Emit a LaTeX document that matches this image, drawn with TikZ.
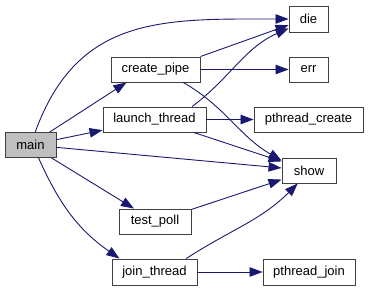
\documentclass[tikz,border=0pt]{standalone}
\usepackage{fontspec}
\setmainfont{Liberation Sans}
\usepackage{xcolor}
\usetikzlibrary{arrows.meta}

\definecolor{callblue}{RGB}{25,25,112}

\begin{document}
\begin{tikzpicture}[x=1pt, y=1pt, >={Triangle[length=13pt,width=9.5pt]},
  fn/.style={draw=black!75, line width=0.9pt, inner sep=0pt,
    minimum height=25pt, font=\fontsize{13}{15}\selectfont},
  call/.style={->, callblue, line width=0.9pt}]
  \useasboundingbox (0,0) rectangle (368,-291);

  \node[fn, fill=black!25, minimum width=51pt] (main) at (30.5,-145) {main};
  \node[fn, minimum width=89pt]  (create_pipe)   at (155.5,-69.5) {create\_pipe};
  \node[fn, minimum width=103pt] (launch_thread) at (154.5,-119.5) {launch\_thread};
  \node[fn, minimum width=72pt]  (test_poll)     at (155,-221.5) {test\_poll};
  \node[fn, minimum width=85pt, minimum height=26pt] (join_thread) at (154.5,-272) {join\_thread};
  \node[fn, minimum width=39pt, minimum height=26pt] (die) at (308.5,-19) {die};
  \node[fn, minimum width=39pt]  (err)           at (308.5,-69.5) {err};
  \node[fn, minimum width=109pt] (pthread_create) at (308.5,-119.5) {pthread\_create};
  \node[fn, minimum width=54pt]  (show)          at (309,-170.5) {show};
  \node[fn, minimum width=92pt, minimum height=26pt] (pthread_join) at (309,-272) {pthread\_join};

  \draw[call] (main) to[out=70, in=180, looseness=1.15] (die);
  \draw[call] (main.34) -- (create_pipe.204);
  \draw[call] (main) -- (launch_thread);
  \draw[call] (main) -- (show);
  \draw[call] (main) -- (test_poll);
  \draw[call] (main.-58) to[out=-66, in=145] (join_thread.159);

  \draw[call] (create_pipe.north east) -- (die.197);
  \draw[call] (create_pipe) -- (err);
  \draw[call] (create_pipe.-25) to[out=-30, in=150] (show.160);

  \draw[call] (launch_thread.19) to[out=37, in=204] (die.205);
  \draw[call] (launch_thread) -- (pthread_create);
  \draw[call] (launch_thread) -- (show);

  \draw[call] (test_poll) -- (show);

  \draw[call] (join_thread.23) to[out=33, in=225] (show.229);
  \draw[call] (join_thread) -- (pthread_join);
\end{tikzpicture}
\end{document}
